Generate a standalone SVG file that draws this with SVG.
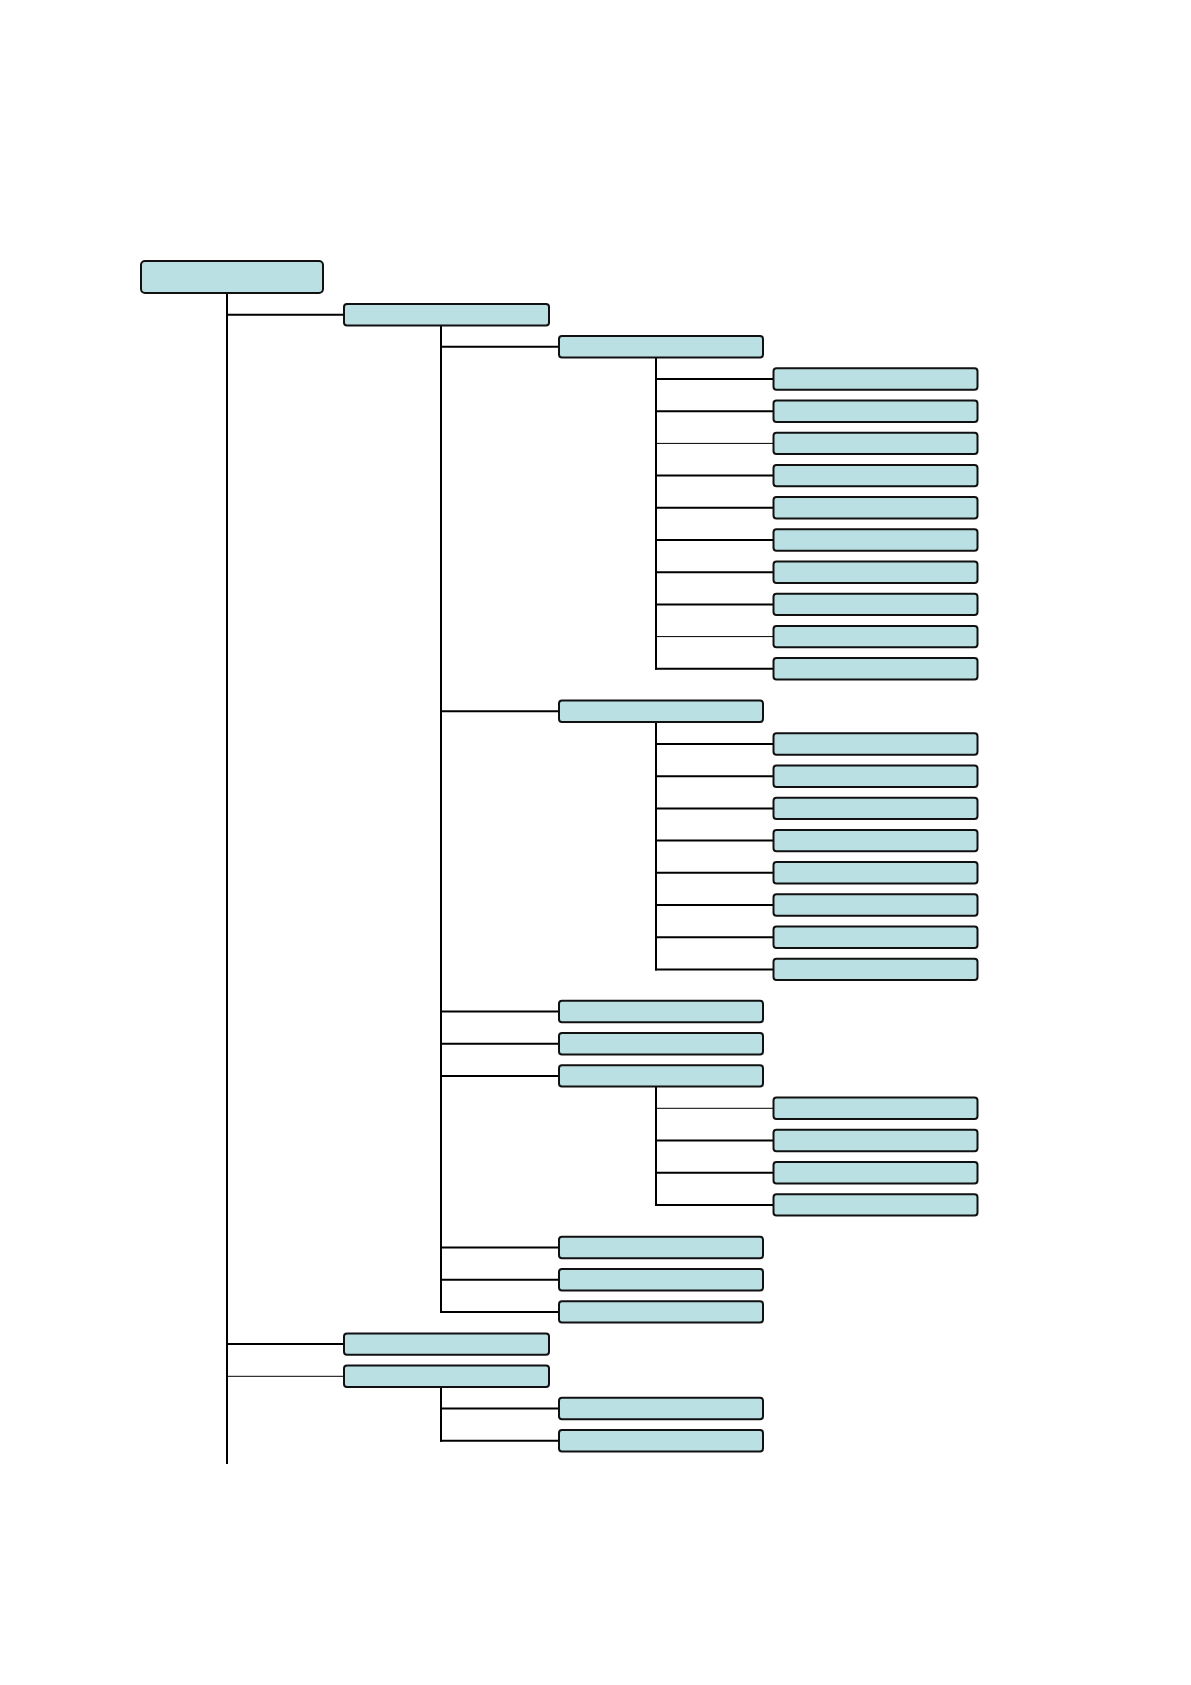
<svg xmlns="http://www.w3.org/2000/svg" width="1191" height="1685" viewBox="0 0 1191 1685">
<style>
.n{fill:#bbe0e3;stroke:#111;stroke-width:2}
.c{stroke:#000;stroke-width:2;fill:none}
.t{stroke:#000;stroke-width:1;fill:none}
</style>
<rect width="1191" height="1685" fill="#fff"/>
<g id="connectors">
<line class="c" x1="227" y1="293" x2="227" y2="1464"/>
<line class="c" x1="227" y1="314.7" x2="344" y2="314.7"/>
<line class="c" x1="227" y1="1344.1" x2="344" y2="1344.1"/>
<line class="t" x1="227" y1="1376.3" x2="344" y2="1376.3"/>
<line class="c" x1="441" y1="325.4" x2="441" y2="1312.9"/>
<line class="c" x1="441" y1="346.7" x2="559" y2="346.7"/>
<line class="c" x1="441" y1="711.3" x2="559" y2="711.3"/>
<line class="c" x1="441" y1="1011.5" x2="559" y2="1011.5"/>
<line class="c" x1="441" y1="1043.7" x2="559" y2="1043.7"/>
<line class="c" x1="441" y1="1075.9" x2="559" y2="1075.9"/>
<line class="c" x1="441" y1="1247.5" x2="559" y2="1247.5"/>
<line class="c" x1="441" y1="1279.7" x2="559" y2="1279.7"/>
<line class="c" x1="440" y1="1311.9" x2="559" y2="1311.9"/>
<line class="c" x1="441" y1="1387" x2="441" y2="1441.7"/>
<line class="c" x1="441" y1="1408.5" x2="559" y2="1408.5"/>
<line class="c" x1="440" y1="1440.7" x2="559" y2="1440.7"/>
<line class="c" x1="656" y1="357.4" x2="656" y2="669.8"/>
<line class="c" x1="656" y1="379" x2="773.5" y2="379"/>
<line class="c" x1="656" y1="411.2" x2="773.5" y2="411.2"/>
<line class="t" x1="656" y1="443.4" x2="773.5" y2="443.4"/>
<line class="c" x1="656" y1="475.6" x2="773.5" y2="475.6"/>
<line class="c" x1="656" y1="507.8" x2="773.5" y2="507.8"/>
<line class="c" x1="656" y1="540" x2="773.5" y2="540"/>
<line class="c" x1="656" y1="572.2" x2="773.5" y2="572.2"/>
<line class="c" x1="656" y1="604.4" x2="773.5" y2="604.4"/>
<line class="t" x1="656" y1="636.6" x2="773.5" y2="636.6"/>
<line class="c" x1="655" y1="668.8" x2="773.5" y2="668.8"/>
<line class="c" x1="656" y1="722" x2="656" y2="970.4"/>
<line class="c" x1="656" y1="744" x2="773.5" y2="744"/>
<line class="c" x1="656" y1="776.2" x2="773.5" y2="776.2"/>
<line class="c" x1="656" y1="808.4" x2="773.5" y2="808.4"/>
<line class="c" x1="656" y1="840.6" x2="773.5" y2="840.6"/>
<line class="c" x1="656" y1="872.8" x2="773.5" y2="872.8"/>
<line class="c" x1="656" y1="905" x2="773.5" y2="905"/>
<line class="c" x1="656" y1="937.2" x2="773.5" y2="937.2"/>
<line class="c" x1="655" y1="969.4" x2="773.5" y2="969.4"/>
<line class="c" x1="656" y1="1086.6" x2="656" y2="1205.9"/>
<line class="t" x1="656" y1="1108.3" x2="773.5" y2="1108.3"/>
<line class="c" x1="656" y1="1140.5" x2="773.5" y2="1140.5"/>
<line class="c" x1="656" y1="1172.7" x2="773.5" y2="1172.7"/>
<line class="c" x1="655" y1="1204.9" x2="773.5" y2="1204.9"/>
</g>
<g id="root"><rect class="n" x="141" y="261" width="182" height="32" rx="4"/></g>
<g id="n1a"><rect class="n" x="344" y="304" width="205" height="21.4" rx="3"/></g>
<g id="n2a"><rect class="n" x="559" y="336" width="204" height="21.4" rx="3"/></g>
<g id="n3a1"><rect class="n" x="773.5" y="368.3" width="204" height="21.4" rx="3"/></g>
<g id="n3a2"><rect class="n" x="773.5" y="400.5" width="204" height="21.4" rx="3"/></g>
<g id="n3a3"><rect class="n" x="773.5" y="432.7" width="204" height="21.4" rx="3"/></g>
<g id="n3a4"><rect class="n" x="773.5" y="464.9" width="204" height="21.4" rx="3"/></g>
<g id="n3a5"><rect class="n" x="773.5" y="497.1" width="204" height="21.4" rx="3"/></g>
<g id="n3a6"><rect class="n" x="773.5" y="529.3" width="204" height="21.4" rx="3"/></g>
<g id="n3a7"><rect class="n" x="773.5" y="561.5" width="204" height="21.4" rx="3"/></g>
<g id="n3a8"><rect class="n" x="773.5" y="593.7" width="204" height="21.4" rx="3"/></g>
<g id="n3a9"><rect class="n" x="773.5" y="625.9" width="204" height="21.4" rx="3"/></g>
<g id="n3a10"><rect class="n" x="773.5" y="658.1" width="204" height="21.4" rx="3"/></g>
<g id="n2b"><rect class="n" x="559" y="700.6" width="204" height="21.4" rx="3"/></g>
<g id="n3b1"><rect class="n" x="773.5" y="733.3" width="204" height="21.4" rx="3"/></g>
<g id="n3b2"><rect class="n" x="773.5" y="765.5" width="204" height="21.4" rx="3"/></g>
<g id="n3b3"><rect class="n" x="773.5" y="797.7" width="204" height="21.4" rx="3"/></g>
<g id="n3b4"><rect class="n" x="773.5" y="829.9" width="204" height="21.4" rx="3"/></g>
<g id="n3b5"><rect class="n" x="773.5" y="862.1" width="204" height="21.4" rx="3"/></g>
<g id="n3b6"><rect class="n" x="773.5" y="894.3" width="204" height="21.4" rx="3"/></g>
<g id="n3b7"><rect class="n" x="773.5" y="926.5" width="204" height="21.4" rx="3"/></g>
<g id="n3b8"><rect class="n" x="773.5" y="958.7" width="204" height="21.4" rx="3"/></g>
<g id="n2c"><rect class="n" x="559" y="1000.8" width="204" height="21.4" rx="3"/></g>
<g id="n2d"><rect class="n" x="559" y="1033" width="204" height="21.4" rx="3"/></g>
<g id="n2e"><rect class="n" x="559" y="1065.2" width="204" height="21.4" rx="3"/></g>
<g id="n3c1"><rect class="n" x="773.5" y="1097.6" width="204" height="21.4" rx="3"/></g>
<g id="n3c2"><rect class="n" x="773.5" y="1129.8" width="204" height="21.4" rx="3"/></g>
<g id="n3c3"><rect class="n" x="773.5" y="1162" width="204" height="21.4" rx="3"/></g>
<g id="n3c4"><rect class="n" x="773.5" y="1194.2" width="204" height="21.4" rx="3"/></g>
<g id="n2f"><rect class="n" x="559" y="1236.8" width="204" height="21.4" rx="3"/></g>
<g id="n2g"><rect class="n" x="559" y="1269" width="204" height="21.4" rx="3"/></g>
<g id="n2h"><rect class="n" x="559" y="1301.2" width="204" height="21.4" rx="3"/></g>
<g id="n1b"><rect class="n" x="344" y="1333.4" width="205" height="21.4" rx="3"/></g>
<g id="n1c"><rect class="n" x="344" y="1365.6" width="205" height="21.4" rx="3"/></g>
<g id="n2i"><rect class="n" x="559" y="1397.8" width="204" height="21.4" rx="3"/></g>
<g id="n2j"><rect class="n" x="559" y="1430" width="204" height="21.4" rx="3"/></g>
</svg>
